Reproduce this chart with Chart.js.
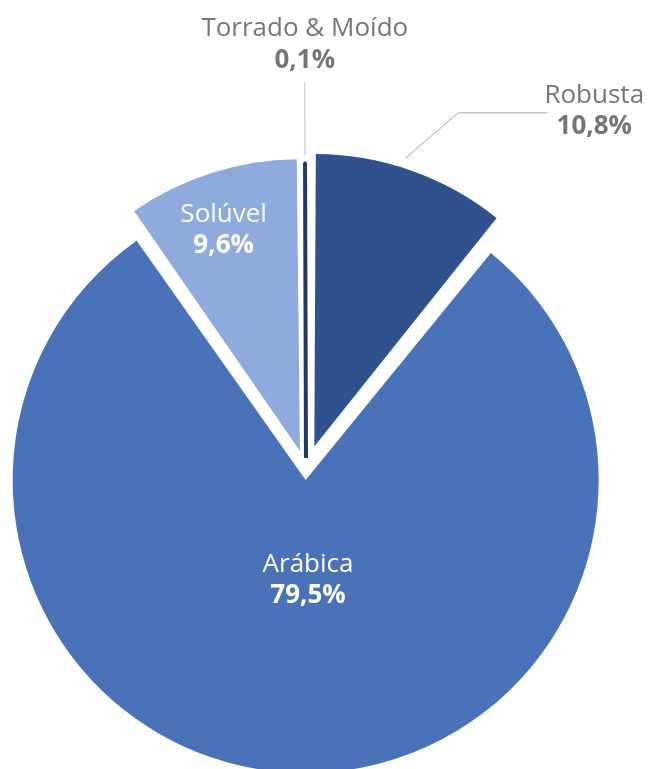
<!DOCTYPE html>
<html lang="pt">
<head>
<meta charset="utf-8">
<title>Café - participação por tipo</title>
<script src="https://cdn.jsdelivr.net/npm/chart.js@4.4.1/dist/chart.umd.min.js"></script>
<style>
  html, body { margin: 0; padding: 0; background: #fff; }
  #wrap { position: relative; width: 648px; height: 769px; }
</style>
</head>
<body>
<div id="wrap"><canvas id="coffeeChart"></canvas></div>
<script>
const categories = ["Robusta", "Arábica", "Solúvel", "Torrado & Moído"];
const shares = [10.8, 79.5, 9.6, 0.1];
const shareLabels = ["10,8%", "79,5%", "9,6%", "0,1%"];

const FONT = "'Open Sans', 'Noto Sans', sans-serif";
const GREY = "#767676";

// how each label sits relative to its slice (angles in degrees, lengths in px)
const labelSpots = [
  { type: "leader", start: [-1.9, 10], elbow: [3.9, 71], run: 89, dx: 47, nameDy: -10, valueDy: 21, color: GREY },
  { type: "inside", dist: 0.33, turn: -3.4, nameDy: -5, valueDy: 26, color: "#fff" },
  { type: "inside", dist: 0.81, turn: -1.2, nameDy: -5, valueDy: 26, color: "#fff" },
  { type: "vertical", from: 8, to: 80, nameDy: -47, valueDy: -15, color: GREY }
];

function rad(deg) { return deg * Math.PI / 180; }

// where chart.js really drew the slice (offset moves it by offset/4)
function sliceGeometry(arc) {
  const p = arc.getProps(["x", "y", "startAngle", "endAngle", "outerRadius"], true);
  const shift = (arc.options.offset || 0) / 4;
  const mid = (p.startAngle + p.endAngle) / 2;
  const fix = 1 - Math.sin(Math.min(Math.PI, p.endAngle - p.startAngle));
  return {
    cx: p.x + Math.cos(mid) * shift,
    cy: p.y + Math.sin(mid) * shift,
    r: p.outerRadius + shift * fix,
    mid
  };
}

function polar(g, turnDeg, dist) {
  const a = g.mid + rad(turnDeg);
  return [g.cx + Math.cos(a) * dist, g.cy + Math.sin(a) * dist];
}

function drawPair(ctx, x, y, i, spot) {
  ctx.fillStyle = spot.color;
  ctx.textAlign = "center";
  ctx.textBaseline = "alphabetic";
  ctx.font = "26px " + FONT;
  ctx.fillText(categories[i], x, y + spot.nameDy);
  ctx.font = "bold 26px " + FONT;
  ctx.fillText(shareLabels[i], x, y + spot.valueDy);
}

const sliceLabels = {
  id: "sliceLabels",
  afterDatasetsDraw(chart) {
    const ctx = chart.ctx;
    const arcs = chart.getDatasetMeta(0).data;
    ctx.save();
    arcs.forEach((arc, i) => {
      const spot = labelSpots[i];
      const g = sliceGeometry(arc);
      if (spot.type === "inside") {
        const [x, y] = polar(g, spot.turn, g.r * spot.dist);
        drawPair(ctx, x, y, i, spot);
      } else if (spot.type === "leader") {
        const [x1, y1] = polar(g, spot.start[0], g.r + spot.start[1]);
        const [x2, y2] = polar(g, spot.elbow[0], g.r + spot.elbow[1]);
        const x3 = x2 + spot.run;
        ctx.strokeStyle = "#A6A6A6";
        ctx.lineWidth = 1;
        ctx.beginPath();
        ctx.moveTo(x1, y1);
        ctx.lineTo(x2, y2);
        ctx.lineTo(x3, y2);
        ctx.stroke();
        drawPair(ctx, x3 + spot.dx, y2, i, spot);
      } else {
        const [x1, y1] = polar(g, 0, g.r + spot.from);
        const [x2, y2] = polar(g, 0, g.r + spot.to);
        ctx.strokeStyle = "#BFBFBF";
        ctx.lineWidth = 1;
        ctx.beginPath();
        ctx.moveTo(x1, y1);
        ctx.lineTo(x2, y2);
        ctx.stroke();
        drawPair(ctx, x2, y2, i, spot);
      }
    });
    ctx.restore();
  }
};

new Chart(document.getElementById("coffeeChart"), {
  type: "pie",
  data: {
    labels: categories,
    datasets: [{
      data: shares,
      backgroundColor: ["#2F528F", "#4A72B8", "#8FAADC", "#1F3864"],
      borderColor: ["#2F528F", "#4A72B8", "#8FAADC", "#1F3864"],
      borderWidth: [0, 0, 0, 4],
      offset: [100, 40, 80, 48]
    }]
  },
  options: {
    responsive: true,
    maintainAspectRatio: false,
    animation: false,
    radius: 283,
    layout: { padding: { top: 171, right: 36, bottom: 0, left: 0 } },
    plugins: {
      legend: { display: false },
      tooltip: { enabled: false }
    }
  },
  plugins: [sliceLabels]
});
</script>
</body>
</html>
